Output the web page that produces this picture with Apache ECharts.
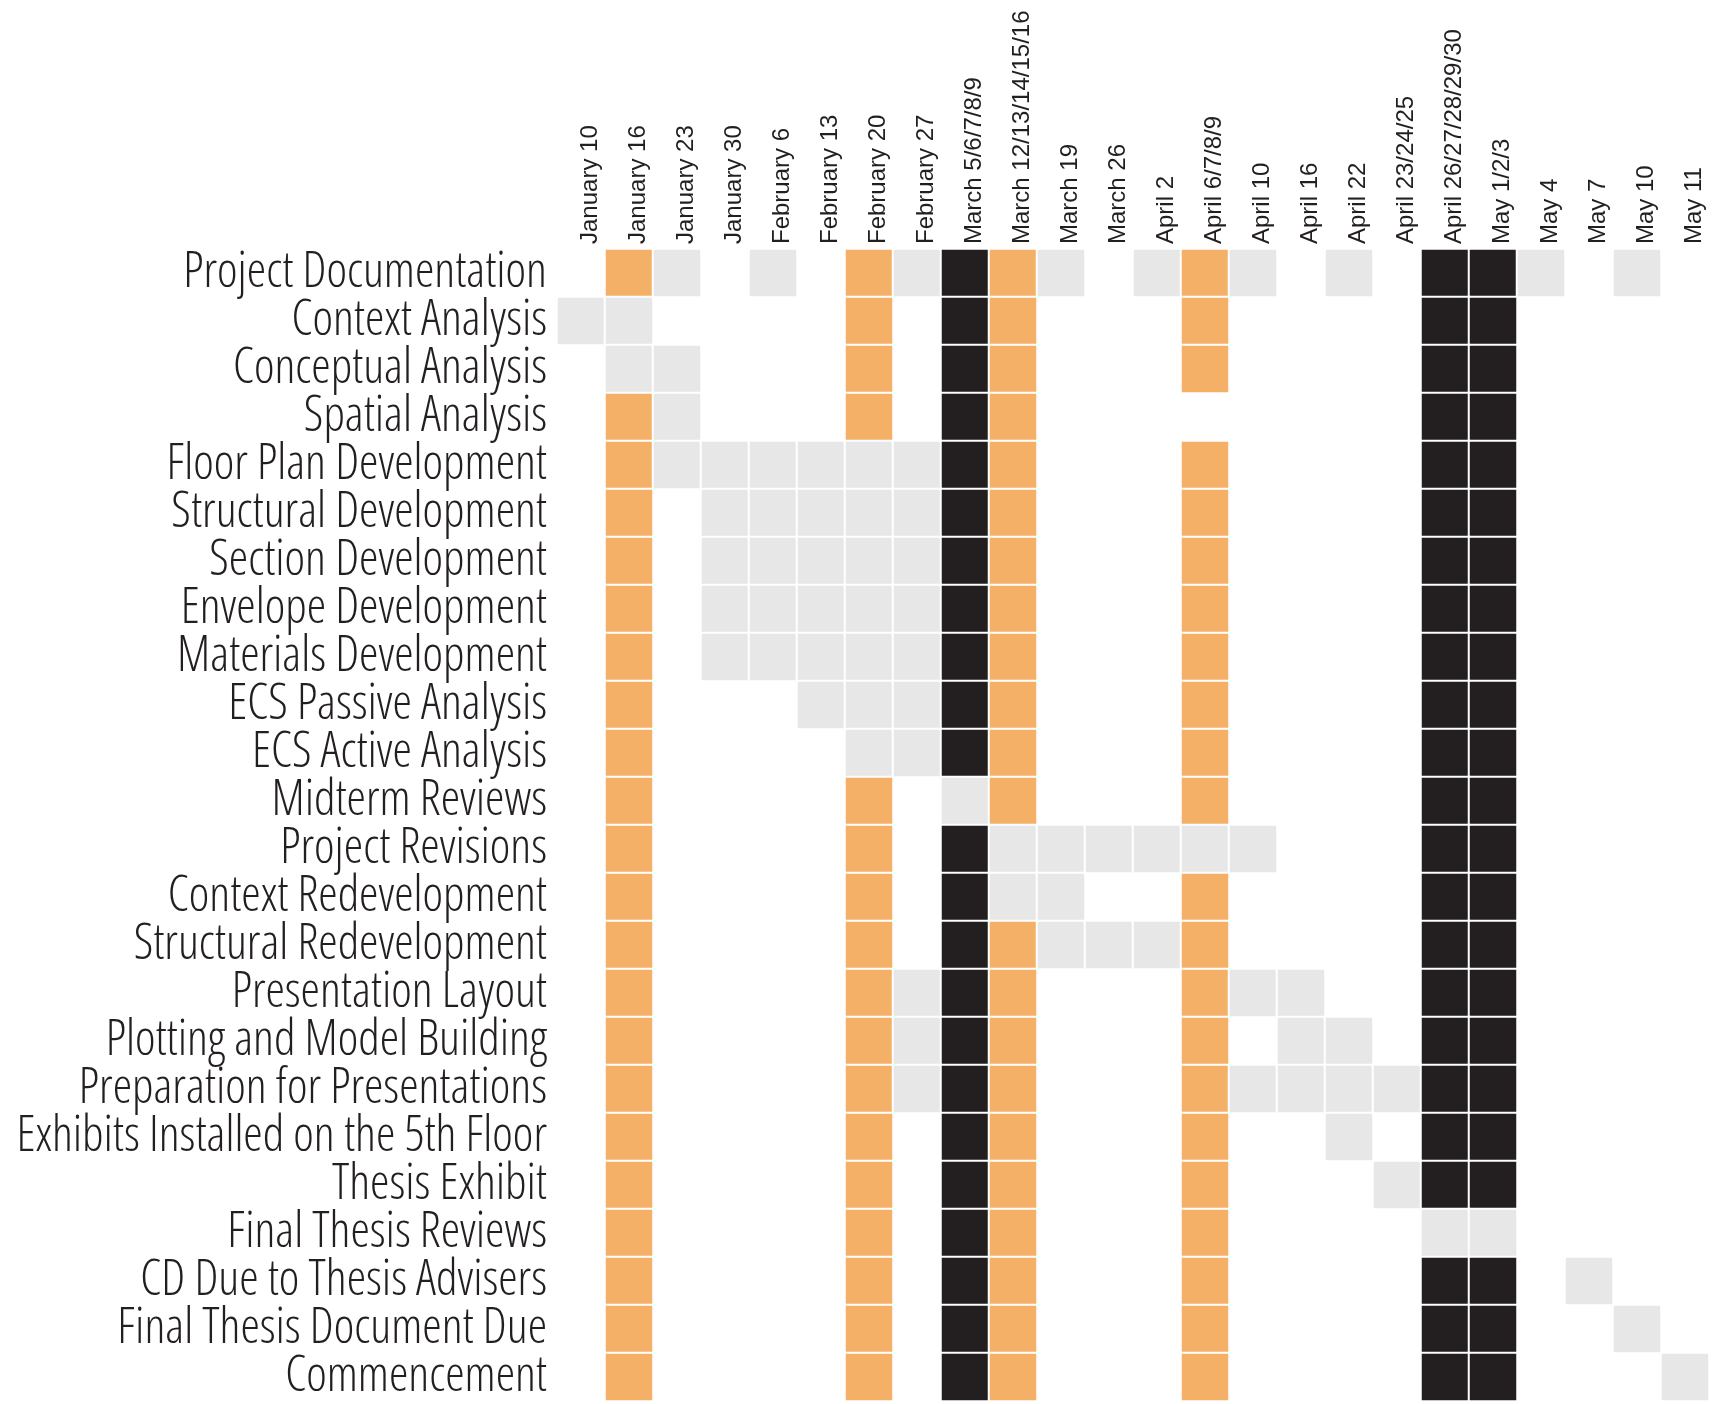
<!DOCTYPE html>
<html>
<head>
<meta charset="utf-8">
<title>Thesis schedule</title>
<script src="https://cdn.jsdelivr.net/npm/echarts@6/dist/echarts.min.js"></script>
<style>
  html, body { margin: 0; padding: 0; background: #fff; }
  #chart { width: 1712px; height: 1404px; }
</style>
</head>
<body>
<div id="chart"></div>
<script>
// week columns
const columns = [
  "January 10", "January 16", "January 23", "January 30", "February 6",
  "February 13", "February 20", "February 27", "March 5/6/7/8/9",
  "March 12/13/14/15/16", "March 19", "March 26", "April 2", "April 6/7/8/9",
  "April 10", "April 16", "April 22", "April 23/24/25",
  "April 26/27/28/29/30", "May 1/2/3", "May 4", "May 7", "May 10", "May 11"
];

const tasks = [
  "Project Documentation", "Context Analysis", "Conceptual Analysis",
  "Spatial Analysis", "Floor Plan Development", "Structural Development",
  "Section Development", "Envelope Development", "Materials Development",
  "ECS Passive Analysis", "ECS Active Analysis", "Midterm Reviews",
  "Project Revisions", "Context Redevelopment", "Structural Redevelopment",
  "Presentation Layout", "Plotting and Model Building",
  "Preparation for Presentations", "Exhibits Installed on the 5th Floor",
  "Thesis Exhibit", "Final Thesis Reviews", "CD Due to Thesis Advisers",
  "Final Thesis Document Due", "Commencement"
];

// 0 = nothing, 1 = work (grey), 2 = review (orange), 3 = blocked (black)
const schedule = [
  [0,2,1,0,1,0,2,1,3,2,1,0,1,2,1,0,1,0,3,3,1,0,1,0],
  [1,1,0,0,0,0,2,0,3,2,0,0,0,2,0,0,0,0,3,3,0,0,0,0],
  [0,1,1,0,0,0,2,0,3,2,0,0,0,2,0,0,0,0,3,3,0,0,0,0],
  [0,2,1,0,0,0,2,0,3,2,0,0,0,0,0,0,0,0,3,3,0,0,0,0],
  [0,2,1,1,1,1,1,1,3,2,0,0,0,2,0,0,0,0,3,3,0,0,0,0],
  [0,2,0,1,1,1,1,1,3,2,0,0,0,2,0,0,0,0,3,3,0,0,0,0],
  [0,2,0,1,1,1,1,1,3,2,0,0,0,2,0,0,0,0,3,3,0,0,0,0],
  [0,2,0,1,1,1,1,1,3,2,0,0,0,2,0,0,0,0,3,3,0,0,0,0],
  [0,2,0,1,1,1,1,1,3,2,0,0,0,2,0,0,0,0,3,3,0,0,0,0],
  [0,2,0,0,0,1,1,1,3,2,0,0,0,2,0,0,0,0,3,3,0,0,0,0],
  [0,2,0,0,0,0,1,1,3,2,0,0,0,2,0,0,0,0,3,3,0,0,0,0],
  [0,2,0,0,0,0,2,0,1,2,0,0,0,2,0,0,0,0,3,3,0,0,0,0],
  [0,2,0,0,0,0,2,0,3,1,1,1,1,1,1,0,0,0,3,3,0,0,0,0],
  [0,2,0,0,0,0,2,0,3,1,1,0,0,2,0,0,0,0,3,3,0,0,0,0],
  [0,2,0,0,0,0,2,0,3,2,1,1,1,2,0,0,0,0,3,3,0,0,0,0],
  [0,2,0,0,0,0,2,1,3,2,0,0,0,2,1,1,0,0,3,3,0,0,0,0],
  [0,2,0,0,0,0,2,1,3,2,0,0,0,2,0,1,1,0,3,3,0,0,0,0],
  [0,2,0,0,0,0,2,1,3,2,0,0,0,2,1,1,1,1,3,3,0,0,0,0],
  [0,2,0,0,0,0,2,0,3,2,0,0,0,2,0,0,1,0,3,3,0,0,0,0],
  [0,2,0,0,0,0,2,0,3,2,0,0,0,2,0,0,0,1,3,3,0,0,0,0],
  [0,2,0,0,0,0,2,0,3,2,0,0,0,2,0,0,0,0,1,1,0,0,0,0],
  [0,2,0,0,0,0,2,0,3,2,0,0,0,2,0,0,0,0,3,3,0,1,0,0],
  [0,2,0,0,0,0,2,0,3,2,0,0,0,2,0,0,0,0,3,3,0,0,1,0],
  [0,2,0,0,0,0,2,0,3,2,0,0,0,2,0,0,0,0,3,3,0,0,0,1]
];

const cellColors = ["#e7e7e7", "#f4b066", "#231f20"];

const cells = [];
schedule.forEach((row, r) => {
  row.forEach((v, c) => {
    if (v > 0) cells.push([c, r, v]);
  });
});

const myChart = echarts.init(document.getElementById("chart"));

const myOption = {
  backgroundColor: "#fff",
  animation: false,
  grid: {
    left: 557,
    top: 249,
    width: 1152,
    height: 1152,
    containLabel: false,
    outerBoundsMode: "none"
  },
  xAxis: {
    type: "category",
    position: "top",
    data: columns,
    axisLine: { show: false },
    axisTick: { show: false },
    splitLine: { show: false },
    axisLabel: {
      interval: 0,
      rotate: -90,
      margin: 5,
      fontSize: 24,
      fontFamily: "'Liberation Sans', Arial, sans-serif",
      color: "#231f20",
      // nudge the date labels a bit right of the column centre
      verticalAlign: "top",
      lineHeight: 18
    }
  },
  yAxis: {
    type: "category",
    inverse: true,
    data: tasks,
    axisLine: { show: false },
    axisTick: { show: false },
    splitLine: { show: false },
    axisLabel: {
      interval: 0,
      margin: 10,
      fontSize: 49,
      // condensed light face of Open Sans, closest to the thin narrow labels
      fontStyle: "condensed",
      fontWeight: 300,
      fontFamily: "'Open Sans', sans-serif",
      color: "#231f20"
    }
  },
  visualMap: {
    type: "piecewise",
    show: false,
    dimension: 2,
    pieces: [
      { value: 1, color: cellColors[0] },
      { value: 2, color: cellColors[1] },
      { value: 3, color: cellColors[2] }
    ]
  },
  series: [
    {
      type: "heatmap",
      data: cells,
      itemStyle: {
        borderColor: "#fff",
        borderWidth: 2
      }
    }
  ]
};

myChart.setOption(myOption);
</script>
</body>
</html>
